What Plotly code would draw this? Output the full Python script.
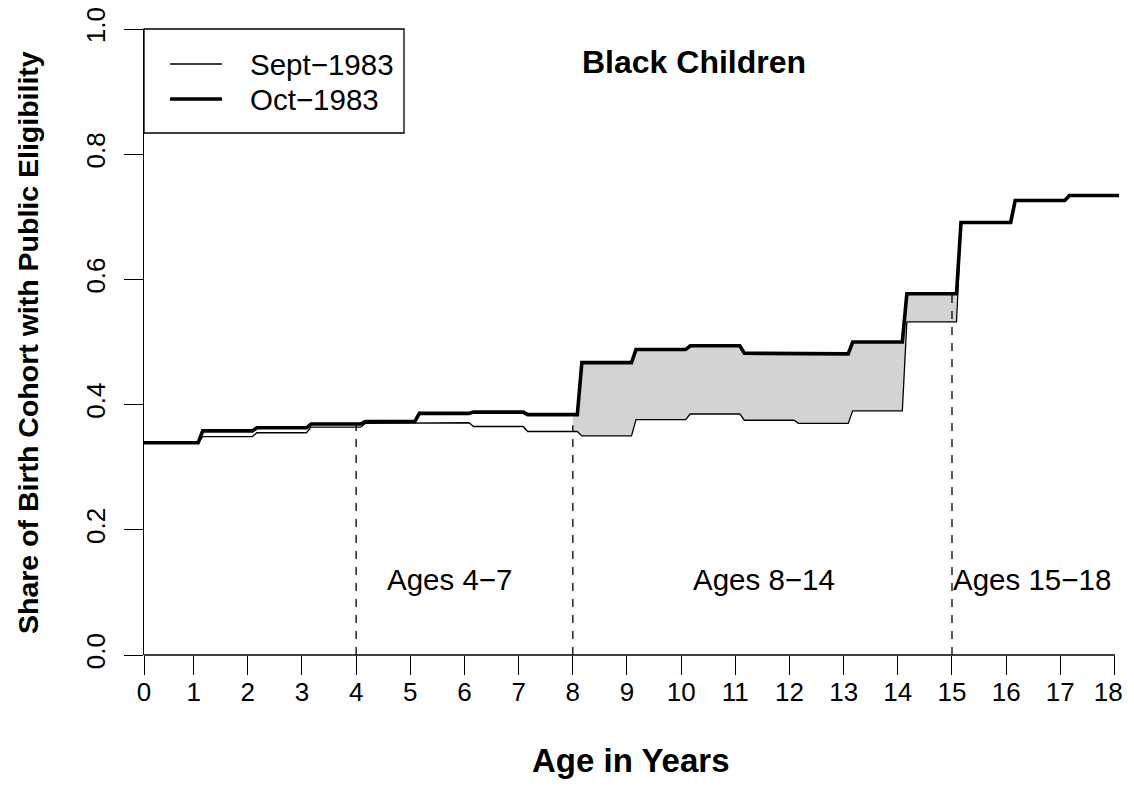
import numpy as np
import plotly.graph_objects as go

# ---- data ----
ages = list(range(18))  # age-in-years levels 0..17
sept_1983 = [0.339, 0.349, 0.355, 0.364, 0.370, 0.371, 0.365, 0.357, 0.350,
             0.376, 0.385, 0.375, 0.370, 0.390, 0.532, 0.691, 0.726, 0.734]
oct_1983 = [0.339, 0.358, 0.363, 0.369, 0.373, 0.386, 0.388, 0.384, 0.467,
            0.488, 0.494, 0.482, 0.481, 0.500, 0.577, 0.691, 0.726, 0.734]
tick_months = [1] + [12 * k for k in range(1, 19)]
tick_labels = [str(k) for k in range(19)]
y_ticks = [0, 0.2, 0.4, 0.6, 0.8, 1.0]
y_tick_labels = ["0.0", "0.2", "0.4", "0.6", "0.8", "1.0"]
divider_months = [48, 96, 180]
divider_tops = [0.369, 0.367, 0.577]
group_labels = ["Ages 4\u22127", "Ages 8\u221214", "Ages 15\u221218"]
group_label_months = [68.6, 138.3, 197.7]
fill_span = [96, 181]

# page geometry (the page body adds an 8px margin around the figure)
PAGE_OFF = 8
W, H = 1134, 800 - PAGE_OFF
L, R, T, B = 144, 1119, 29, 655  # plot box in page pixels
FONT = "Liberation Sans, Arial, Helvetica, sans-serif"
REG = 29.5
TICK = 26
BOLD = 32


def step_points(vals):
    xs, ys = [], []
    for k, v in zip(ages, vals):
        start = 1 if k == 0 else 12 * k + 2
        end = 12 * k + 13
        xs += [start, end]
        ys += [v, v]
    return np.array(xs, float), np.array(ys, float)


def cut(xs, ys, a, b):
    inner = (xs > a) & (xs < b)
    cx = np.concatenate([[a], xs[inner], [b]])
    cy = np.concatenate([[np.interp(a, xs, ys)], ys[inner], [np.interp(b, xs, ys)]])
    return cx, cy


def px(x):
    return (x - L) / (R - L)


def py(y):
    return (B - y) / (B - T)


sx, sy = step_points(sept_1983)
ox, oy = step_points(oct_1983)

# keep the last tick label inside the visible page edge
shown_tick_labels = tick_labels[:-1] + [tick_labels[-1] + "\u00a0\u2009"]

fig = go.Figure()

# shaded gap between cohorts
fsx, fsy = cut(sx, sy, *fill_span)
fox, foy = cut(ox, oy, *fill_span)
fig.add_trace(go.Scatter(
    x=np.concatenate([fsx, fox[::-1]]), y=np.concatenate([fsy, foy[::-1]]),
    mode="lines", fill="toself", fillcolor="#D3D3D3",
    line=dict(width=0, color="rgba(0,0,0,0)"), hoverinfo="skip", showlegend=False))

# dashed dividers
for m, top in zip(divider_months, divider_tops):
    fig.add_trace(go.Scatter(x=[m, m], y=[0, top], mode="lines",
                             line=dict(color="black", width=1.3, dash="8px,8px"),
                             hoverinfo="skip", showlegend=False))

fig.add_trace(go.Scatter(x=sx, y=sy, mode="lines", name="Sept\u22121983",
                         line=dict(color="black", width=1.3), showlegend=False))
fig.add_trace(go.Scatter(x=ox, y=oy, mode="lines", name="Oct\u22121983",
                         line=dict(color="black", width=3.6), showlegend=False))

annotations = []
for lab, m in zip(group_labels, group_label_months):
    annotations.append(dict(x=m, y=0.12, xref="x", yref="y", text=lab, showarrow=False,
                            font=dict(family=FONT, size=REG, color="black"),
                            xanchor="center", yanchor="middle"))

annotations.append(dict(x=px(694), y=py(62), xref="paper", yref="paper",
                        text="<b>Black Children</b>", showarrow=False,
                        font=dict(family=FONT, size=BOLD, color="black"),
                        xanchor="center", yanchor="middle"))
annotations.append(dict(x=px(631), y=py(760), xref="paper", yref="paper",
                        text="<b>Age in Years</b>", showarrow=False,
                        font=dict(family=FONT, size=33, color="black"),
                        xanchor="center", yanchor="middle"))
annotations.append(dict(x=px(28), y=py(343), xref="paper", yref="paper",
                        text="<b>Share of Birth Cohort with Public Eligibility</b>",
                        showarrow=False, textangle=-90,
                        font=dict(family=FONT, size=28.5, color="black"),
                        xanchor="center", yanchor="middle"))

# legend (drawn by hand to match the base-graphics box)
annotations.append(dict(x=px(248), y=py(64), xref="paper", yref="paper",
                        text="Sept\u22121983", showarrow=False,
                        font=dict(family=FONT, size=REG, color="black"),
                        xanchor="left", yanchor="middle"))
annotations.append(dict(x=px(248), y=py(99), xref="paper", yref="paper",
                        text="Oct\u22121983", showarrow=False,
                        font=dict(family=FONT, size=REG, color="black"),
                        xanchor="left", yanchor="middle"))

shapes = [
    dict(type="rect", xref="paper", yref="paper", x0=px(144), x1=px(404),
         y0=py(133), y1=py(29), line=dict(color="black", width=1.3),
         fillcolor="white", layer="above"),
    dict(type="line", xref="paper", yref="paper", x0=px(170), x1=px(222),
         y0=py(64), y1=py(64), line=dict(color="black", width=1.3)),
    dict(type="line", xref="paper", yref="paper", x0=px(170), x1=px(222),
         y0=py(99), y1=py(99), line=dict(color="black", width=3.6)),
    # x axis line from first to last tick
    dict(type="line", xref="paper", yref="paper", x0=px(144), x1=px(1115),
         y0=0, y1=0, line=dict(color="black", width=1.3)),
]

fig.update_layout(
    width=W, height=H,
    margin=dict(l=L - PAGE_OFF, r=(W + PAGE_OFF) - R, t=T - PAGE_OFF,
                b=(H + PAGE_OFF) - B, autoexpand=False),
    paper_bgcolor="white", plot_bgcolor="white",
    font=dict(family=FONT, size=REG, color="black"),
    showlegend=False,
    annotations=annotations,
    shapes=shapes,
    xaxis=dict(range=[1, 217], tickmode="array", tickvals=tick_months,
               ticktext=shown_tick_labels, ticks="outside", ticklen=19, tickwidth=1.3,
               tickcolor="black", showgrid=False, zeroline=False, showline=False,
               automargin=False, ticklabeloverflow="allow", ticklabelstandoff=-5,
               tickfont=dict(family=FONT, size=TICK, color="black")),
    yaxis=dict(range=[0, 1], tickmode="array", tickvals=y_ticks,
               ticktext=y_tick_labels,
               ticks="outside", ticklen=19, tickwidth=1.3, tickcolor="black",
               showgrid=False, zeroline=False, showline=True, linecolor="black",
               linewidth=1.3, tickangle=-90, ticklabelstandoff=8, automargin=False,
               ticklabeloverflow="allow",
               tickfont=dict(family=FONT, size=TICK, color="black")),
)

fig.write_html("out.html")
